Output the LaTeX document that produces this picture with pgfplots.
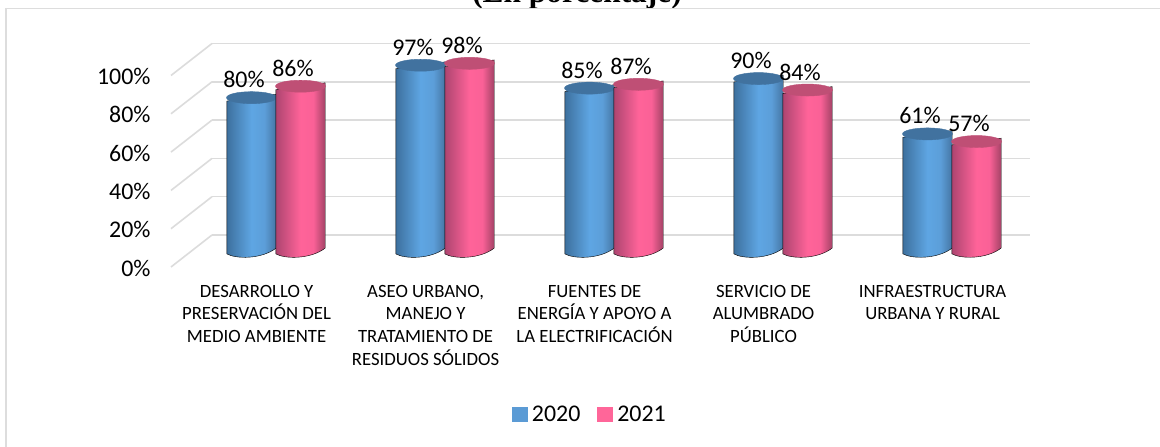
\documentclass[border=0pt]{standalone}
\usepackage{pgfplots}
\pgfplotsset{compat=1.18}
\usepackage{fontspec}
\setmainfont{Carlito}
\newfontfamily\titlefont{Liberation Serif}
\definecolor{gridc}{HTML}{DCDCDC}
\definecolor{frameb}{HTML}{DDDDDD}
\definecolor{blueleg}{HTML}{5B9BD5}
\definecolor{pinkleg}{HTML}{FF6699}
\definecolor{bluetop}{HTML}{41729F}
\definecolor{pinktop}{HTML}{BF4F75}
\pgfdeclarehorizontalshading{bluecyl}{100bp}{rgb(0bp)=(0.24,0.44,0.62);rgb(25bp)=(0.24,0.44,0.62);rgb(50bp)=(0.37,0.65,0.89);rgb(63bp)=(0.36,0.62,0.85);rgb(75bp)=(0.27,0.46,0.64);rgb(100bp)=(0.27,0.46,0.64)}
\pgfdeclarehorizontalshading{pinkcyl}{100bp}{rgb(0bp)=(0.68,0.27,0.44);rgb(25bp)=(0.68,0.27,0.44);rgb(50bp)=(1,0.39,0.60);rgb(63bp)=(0.98,0.38,0.59);rgb(75bp)=(0.64,0.26,0.40);rgb(100bp)=(0.64,0.26,0.40)}
\newcommand{\cyl}[2]{%
  \pgfmathsetmacro\H{\val*1.91}%
  \begin{scope}[x=1bp,y=1bp]
    \shade[shading=#1] (-24.7,-3.4) -- (-24.7,-\H-3.4)
      .. controls (-16,-\H-8.5) and (10,-\H-9) .. (24.7,-\H+2.4)
      -- (24.7,3.4) -- cycle;
    \fill[#2,rotate=8] (0,0) ellipse [x radius=25bp,y radius=6bp];
  \end{scope}}
\pgfdeclareplotmark{cylblue}{\cyl{bluecyl}{bluetop}}
\pgfdeclareplotmark{cylpink}{\cyl{pinkcyl}{pinktop}}
\pgfplotstableread{
x v
0 80
1 97
2 85
3 90
4 61
}\tblA
\pgfplotstableread{
x v
0 86
1 98
2 87
3 84
4 57
}\tblB
\pgfplotsset{
  cyl plot/.style={scatter,only marks,forget plot,
    visualization depends on={rawy \as \val},
    nodes near coords={\pgfmathprintnumber[precision=0]{\val}\%},
    /pgf/number format/assume math mode=true,
    every node near coord/.append style={anchor=center,xshift=-7.5bp,yshift=18bp,font=\fontsize{24}{26}\selectfont,text=black}}}
\tikzset{catlab/.style={align=center,anchor=north,font=\fontsize{18.8}{22.8}\selectfont}}
\begin{document}
\begin{tikzpicture}[x=1bp,y=1bp]
\clip (0,0) rectangle (1160,447);
\fill[white] (0,0) rectangle (1160,447);
\node[font=\titlefont\bfseries\fontsize{31.5}{34}\selectfont,anchor=base] at (577,444) {(En porcentaje)};
\fill[white] (0,0) rectangle (1160,438.5);
\draw[frameb,line width=1.5bp] (6,-2) -- (6,438.5) -- (1165,438.5);
% wall: gridlines and percentage axis
\begin{axis}[
  at={(212bp,212bp)},anchor=south west,
  scale only axis,width=818bp,height=191.5bp,
  xmin=0,xmax=1,ymin=0,ymax=100,
  axis line style={draw=none},
  xtick=\empty,
  ytick={0,20,40,60,80,100},
  yticklabel={\pgfmathprintnumber{\tick}\%},
  tick style={draw=none},
  ymajorgrids,
  grid style={gridc,line width=1.6bp},
  /pgf/number format/assume math mode=true,
  yticklabel style={font=\fontsize{24}{26}\selectfont,xshift=-58bp,yshift=-33bp},
  clip=false,
]
\pgfplotsinvokeforeach{0,20,40,60,80,100}{
  \draw[gridc,line width=1.6bp] (axis cs:0,#1) -- ++(-41bp,-32bp);
}
\end{axis}
% bars and legend
\begin{axis}[
  at={(0bp,0bp)},anchor=south west,
  scale only axis,width=1160bp,height=447bp,
  xmin=-1.63314,xmax=5.23077,
  ymin=-103.1,ymax=131.2,
  hide y axis,
  axis x line=none,
  clip=false,
  xtick=\empty,
  legend style={at={(axis description cs:0.5085,0.0738)},anchor=center,draw=none,fill=none,
    legend columns=2,font=\fontsize{24}{26}\selectfont,
    /tikz/every odd column/.append style={column sep=2.5bp},
    /tikz/every even column/.append style={column sep=15bp}},
  legend image code/.code={\fill[#1] (0bp,-7bp) rectangle (15bp,7bp);},
]
\addlegendimage{blueleg,fill=blueleg}
\addlegendentry{2020}
\addlegendimage{pinkleg,fill=pinkleg}
\addlegendentry{2021}
\addplot[cyl plot,mark=cylblue,xshift=-24.5bp] table[x=x,y=v] {\tblA};
\addplot[cyl plot,mark=cylpink,xshift=24.5bp] table[x=x,y=v] {\tblB};
\node[catlab] at (axis cs:-0.115,-16.3) {DESARROLLO Y\\PRESERVACIÓN DEL\\MEDIO AMBIENTE};
\node[catlab] at (axis cs:0.885,-16.3) {ASEO URBANO,\\MANEJO Y\\TRATAMIENTO DE\\RESIDUOS SÓLIDOS};
\node[catlab] at (axis cs:1.885,-16.3) {FUENTES DE\\ENERGÍA Y APOYO A\\LA ELECTRIFICACIÓN};
\node[catlab] at (axis cs:2.885,-16.3) {SERVICIO DE\\ALUMBRADO\\PÚBLICO};
\node[catlab] at (axis cs:3.885,-16.3) {INFRAESTRUCTURA\\URBANA Y RURAL};
\end{axis}
\end{tikzpicture}
\end{document}
